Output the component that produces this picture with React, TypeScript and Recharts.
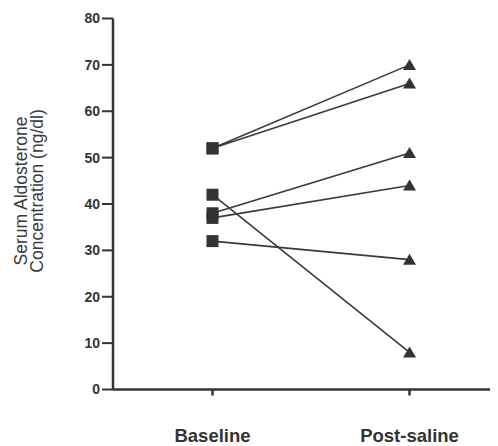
import React from 'react';
import { LineChart, Line, XAxis, YAxis } from 'recharts';

const categories = ['Baseline', 'Post-saline'];
const baselineValues = [52, 52, 38, 37, 32, 42];
const postSalineValues = [70, 66, 51, 44, 28, 8];
const yTicks = [0, 10, 20, 30, 40, 50, 60, 70, 80];
const yLabelLines = ['Serum Aldosterone', 'Concentration (ng/dl)'];

const series = baselineValues.map((b, i) => [
  { x: 0, y: b },
  { x: 1, y: postSalineValues[i] },
]);

const INK = '#333';
const FONT = '"Liberation Sans", Arial, Helvetica, sans-serif';

const Marker = (props: any) => {
  const { cx, cy, payload, index } = props;
  if (cx == null || cy == null) return <g key={`m-${index}`} />;
  if (payload.x === 0) {
    return <rect key={`m-${index}`} x={cx - 6} y={cy - 6} width={12} height={12} fill={INK} />;
  }
  return (
    <path
      key={`m-${index}`}
      d={`M${cx},${cy - 6} L${cx + 6.5},${cy + 5} L${cx - 6.5},${cy + 5} Z`}
      fill={INK}
    />
  );
};

const XTick = (props: any) => {
  const { x, y, payload } = props;
  return (
    <text x={x} y={y + 46.5} textAnchor="middle" fontFamily={FONT} fontWeight="bold" fontSize={18.5} fill={INK}>
      {categories[payload.value]}
    </text>
  );
};

const YLabel = () => (
  <g>
    {yLabelLines.map((t, i) => {
      const x = 19 + i * 16;
      const y = 183;
      return (
        <text
          key={t}
          x={x}
          y={y}
          transform={`rotate(-90 ${x} ${y})`}
          textAnchor="middle"
          fontFamily={FONT}
          fontSize={17.5}
          fill="#3a3a3a"
        >
          {t}
        </text>
      );
    })}
  </g>
);

export default function App() {
  return (
    <div style={{ width: 490, height: 438, background: '#fff' }}>
      <LineChart width={490} height={438} margin={{ top: 10.5, right: 0, bottom: 26.5, left: 0 }}>
        <XAxis
          type="number"
          dataKey="x"
          domain={[-0.505, 1.449]}
          ticks={[0, 1]}
          allowDataOverflow
          height={30}
          tick={<XTick />}
          tickSize={6}
          tickMargin={0}
          axisLine={{ stroke: INK, strokeWidth: 2.5 }}
          tickLine={{ stroke: INK, strokeWidth: 2.5 }}
        />
        <YAxis
          type="number"
          domain={[0, 80]}
          ticks={yTicks}
          width={105}
          tickSize={11}
          tickMargin={2}
          axisLine={{ stroke: INK, strokeWidth: 2.5 }}
          tickLine={{ stroke: INK, strokeWidth: 2 }}
          tick={{ fill: INK, fontFamily: FONT, fontWeight: 'bold', fontSize: 14 }}
          label={{ content: <YLabel /> }}
        />
        {series.map((d, i) => (
          <Line
            key={i}
            data={d}
            dataKey="y"
            type="linear"
            stroke="#3a3a3a"
            strokeWidth={1.6}
            dot={Marker}
            activeDot={false}
            isAnimationActive={false}
          />
        ))}
      </LineChart>
    </div>
  );
}
